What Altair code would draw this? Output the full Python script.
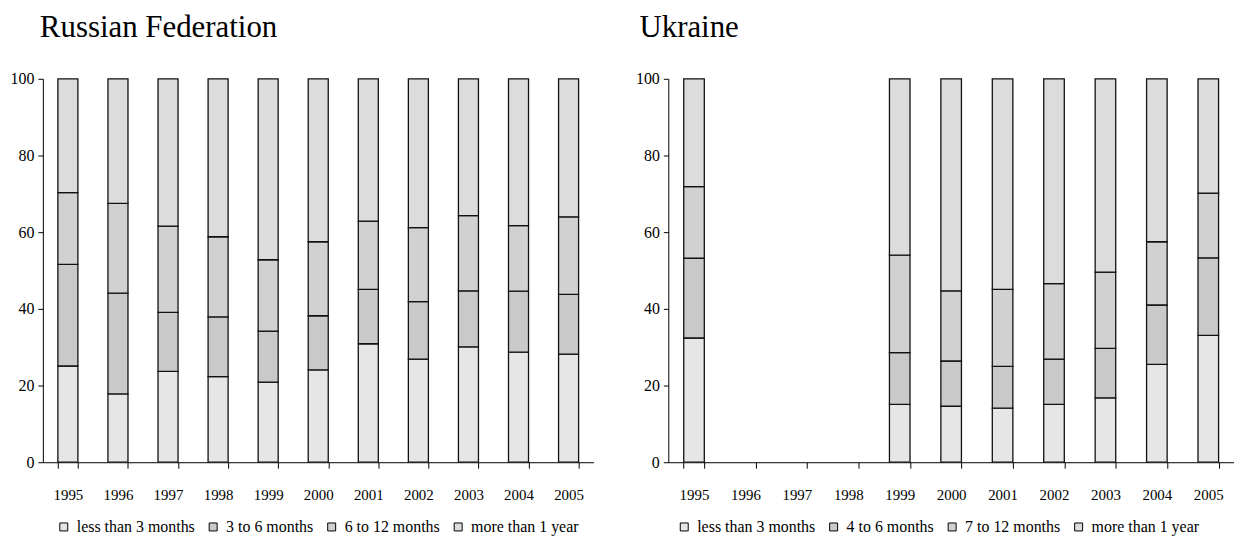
import altair as alt
import pandas as pd

FONT = "Liberation Serif"

years = ["1995", "1996", "1997", "1998", "1999", "2000", "2001", "2002", "2003", "2004", "2005"]

ru_names = ["less than 3 months", "3 to 6 months", "6 to 12 months", "more than 1 year"]
ru_less3 = [25.1, 17.8, 23.7, 22.3, 20.9, 24.1, 30.9, 26.9, 30.1, 28.7, 28.2]
ru_3to6 = [26.5, 26.3, 15.4, 15.6, 13.3, 14.1, 14.2, 15.0, 14.6, 15.9, 15.6]
ru_6to12 = [18.7, 23.4, 22.5, 20.9, 18.6, 19.3, 17.8, 19.3, 19.6, 17.1, 20.2]
ru_more1 = [29.7, 32.5, 38.4, 41.2, 47.2, 42.5, 37.1, 38.8, 35.7, 38.3, 36.0]

ua_names = ["less than 3 months", "4 to 6 months", "7 to 12 months", "more than 1 year"]
ua_years = ["1995", "1999", "2000", "2001", "2002", "2003", "2004", "2005"]
ua_less3 = [32.4, 15.1, 14.6, 14.1, 15.1, 16.8, 25.5, 33.1]
ua_4to6 = [20.8, 13.5, 11.8, 10.9, 11.8, 12.9, 15.5, 20.2]
ua_7to12 = [18.7, 25.4, 18.3, 20.1, 19.7, 19.9, 16.5, 16.9]
ua_more1 = [28.1, 46.0, 55.3, 54.9, 53.4, 50.4, 42.5, 29.8]

fills = ["#e6e6e6", "#c9c9c9", "#d1d1d1", "#dcdcdc"]


def panel(title, yrs, names, series, width, legend_x, title_dx):
    rows = []
    for k, (name, vals) in enumerate(zip(names, series)):
        for yr, v in zip(yrs, vals):
            rows.append({"year": yr, "series": name, "value": v, "k": k})
    df = pd.DataFrame(rows)
    return (
        alt.Chart(
            df,
            title=alt.Title(
                title, anchor="start", frame="group", dx=title_dx, offset=27,
                fontSize=31, font=FONT, fontWeight="normal", color="black",
            ),
        )
        .mark_bar(stroke="#111111", strokeWidth=1.3)
        .encode(
            x=alt.X(
                "year:N",
                scale=alt.Scale(domain=years, paddingInner=0.6, paddingOuter=0.3),
                axis=alt.Axis(
                    title=None, labelAngle=0, tickBand="extent", tickSize=6,
                    labelPadding=19, labelFont=FONT, labelFontSize=15,
                    labelColor="black", domainColor="black", tickColor="black",
                ),
            ),
            y=alt.Y(
                "value:Q",
                stack="zero",
                scale=alt.Scale(domain=[0, 100], nice=False),
                axis=alt.Axis(
                    title=None, values=[0, 20, 40, 60, 80, 100], grid=False,
                    tickSize=5, labelPadding=4, labelFont=FONT, labelFontSize=16,
                    labelColor="black", domainColor="black", tickColor="black",
                ),
            ),
            color=alt.Color(
                "series:N",
                scale=alt.Scale(domain=names, range=fills),
                legend=alt.Legend(
                    title=None, orient="none", legendX=legend_x, legendY=442,
                    direction="horizontal", symbolType="square", symbolSize=64,
                    symbolStrokeColor="black", symbolStrokeWidth=1,
                    labelFont=FONT, labelFontSize=16, labelColor="black",
                    labelOffset=5, columnPadding=10, labelLimit=300,
                ),
            ),
            order=alt.Order("k:Q"),
        )
        .properties(width=width, height=385)
    )


ru = panel("Russian Federation", years, ru_names, [ru_less3, ru_3to6, ru_6to12, ru_more1], 553, 13, -3)
ua = panel("Ukraine", ua_years, ua_names, [ua_less3, ua_4to6, ua_7to12, ua_more1], 568, 8, -29)

chart = (
    alt.hconcat(ru, ua, spacing=42)
    .resolve_scale(color="independent")
    .properties(padding={"left": 2, "top": 3, "right": 0, "bottom": 0})
    .configure_view(stroke=None)
)

chart.save("out.html", embed_options={"renderer": "svg", "actions": False})
